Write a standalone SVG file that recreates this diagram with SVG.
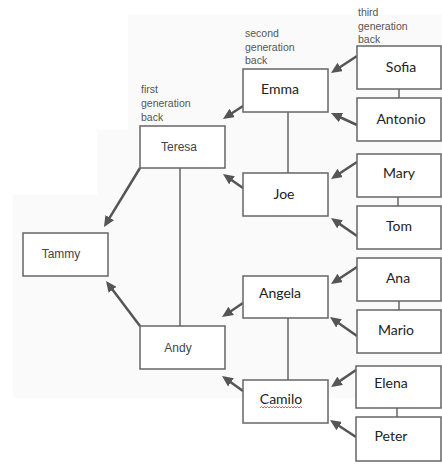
<svg xmlns="http://www.w3.org/2000/svg" width="442" height="468" viewBox="0 0 442 468">
<defs>
<marker id="ah" viewBox="0 0 11 10" markerWidth="11" markerHeight="10" refX="5" refY="5" orient="auto" markerUnits="userSpaceOnUse">
<path d="M0,0 L11,5 L0,10 z" fill="#555"/>
</marker>
</defs>
<style>
.box{fill:#fff;stroke:#666;stroke-width:1.5}
.cal{font-family:Lato,"Open Sans",sans-serif;font-size:14px;fill:#222}
.ari{font-family:"Liberation Sans",Arial,sans-serif;font-size:12px;fill:#444}
.lbl{font-family:"Liberation Sans",Arial,sans-serif;font-size:10.5px;fill:#555}
.arr{stroke:#555;stroke-width:2.5;fill:none;marker-end:url(#ah)}
.ln{stroke:#666;stroke-width:1.5;fill:none}
</style>
<rect x="0" y="0" width="442" height="468" fill="#fff"/>
<path d="M128,15 H442 V398 H13 V195 H97 V130 H128 Z" fill="#fafafa"/>
<g id="labels">
<text class="lbl" x="358" y="16">third</text>
<text class="lbl" x="358" y="30">generation</text>
<text class="lbl" x="358" y="43">back</text>
<text class="lbl" x="245" y="37">second</text>
<text class="lbl" x="245" y="51">generation</text>
<text class="lbl" x="245" y="64">back</text>
<text class="lbl" x="141" y="93">first</text>
<text class="lbl" x="141" y="107">generation</text>
<text class="lbl" x="141" y="121">back</text>
</g>
<g id="connectors">
<path class="ln" d="M399,89 V98"/>
<path class="ln" d="M398,197 V206"/>
<path class="ln" d="M399,301 V310"/>
<path class="ln" d="M397,408 V417"/>
<path class="ln" d="M288,112 V173"/>
<path class="ln" d="M288,318 V380"/>
<path class="ln" d="M180,168 V326"/>
<path class="arr" d="M357,56 L336,69.7"/>
<path class="arr" d="M357,125 L336.4,115.5"/>
<path class="arr" d="M243,106 L228,115.7"/>
<path class="arr" d="M357,162 L336,175.7"/>
<path class="arr" d="M357,236 L335.9,221.4"/>
<path class="arr" d="M243,188 L227.9,177.4"/>
<path class="arr" d="M140,168 L107.1,221.9"/>
<path class="arr" d="M140,326 L109.6,285.8"/>
<path class="arr" d="M357,267 L336,280.7"/>
<path class="arr" d="M243,303 L227,313.7"/>
<path class="arr" d="M357,336 L334.9,320.5"/>
<path class="arr" d="M243,391 L226.9,379.5"/>
<path class="arr" d="M356,370 L336,383.6"/>
<path class="arr" d="M356,437 L335,423.3"/>
</g>
<g id="sofia"><rect class="box" x="357" y="46" width="84" height="43"/><text class="cal" x="401" y="72" text-anchor="middle">Sofia</text></g>
<g id="antonio"><rect class="box" x="357" y="98" width="84" height="43"/><text class="cal" x="401" y="124" text-anchor="middle">Antonio</text></g>
<g id="emma"><rect class="box" x="243" y="69" width="85" height="43"/><text class="cal" x="280" y="94" text-anchor="middle">Emma</text></g>
<g id="teresa"><rect class="box" x="140" y="126" width="85" height="42"/><text class="ari" x="179" y="151" text-anchor="middle">Teresa</text></g>
<g id="mary"><rect class="box" x="357" y="154" width="84" height="43"/><text class="cal" x="399" y="178" text-anchor="middle">Mary</text></g>
<g id="joe"><rect class="box" x="243" y="173" width="85" height="43"/><text class="cal" x="284" y="199" text-anchor="middle">Joe</text></g>
<g id="tom"><rect class="box" x="357" y="206" width="84" height="43"/><text class="cal" x="399" y="231" text-anchor="middle">Tom</text></g>
<g id="tammy"><rect class="box" x="23" y="233" width="85" height="43"/><text class="ari" x="61" y="258" text-anchor="middle">Tammy</text></g>
<g id="ana"><rect class="box" x="357" y="258" width="84" height="43"/><text class="cal" x="398" y="283" text-anchor="middle">Ana</text></g>
<g id="angela"><rect class="box" x="243" y="276" width="85" height="42"/><text class="cal" x="280" y="298" text-anchor="middle">Angela</text></g>
<g id="mario"><rect class="box" x="357" y="310" width="84" height="43"/><text class="cal" x="396" y="335" text-anchor="middle">Mario</text></g>
<g id="andy"><rect class="box" x="140" y="326" width="85" height="43"/><text class="ari" x="178" y="352" text-anchor="middle">Andy</text></g>
<g id="elena"><rect class="box" x="356" y="366" width="85" height="42"/><text class="cal" x="391" y="388" text-anchor="middle">Elena</text></g>
<g id="camilo"><rect class="box" x="243" y="380" width="85" height="43"/><text class="cal" x="281" y="404" text-anchor="middle">Camilo</text>
<path d="M260,408 l1.5,-1.5 l1.5,1.5 l1.5,-1.5 l1.5,1.5 l1.5,-1.5 l1.5,1.5 l1.5,-1.5 l1.5,1.5 l1.5,-1.5 l1.5,1.5 l1.5,-1.5 l1.5,1.5 l1.5,-1.5 l1.5,1.5 l1.5,-1.5 l1.5,1.5 l1.5,-1.5 l1.5,1.5 l1.5,-1.5 l1.5,1.5 l1.5,-1.5 l1.5,1.5 l1.5,-1.5 l1.5,1.5 l1.5,-1.5 l1.5,1.5 l1.5,-1.5 l1.5,1.5" fill="none" stroke="#d33" stroke-width="0.8"/></g>
<g id="peter"><rect class="box" x="356" y="417" width="85" height="44"/><text class="cal" x="391" y="441" text-anchor="middle">Peter</text></g>
</svg>
